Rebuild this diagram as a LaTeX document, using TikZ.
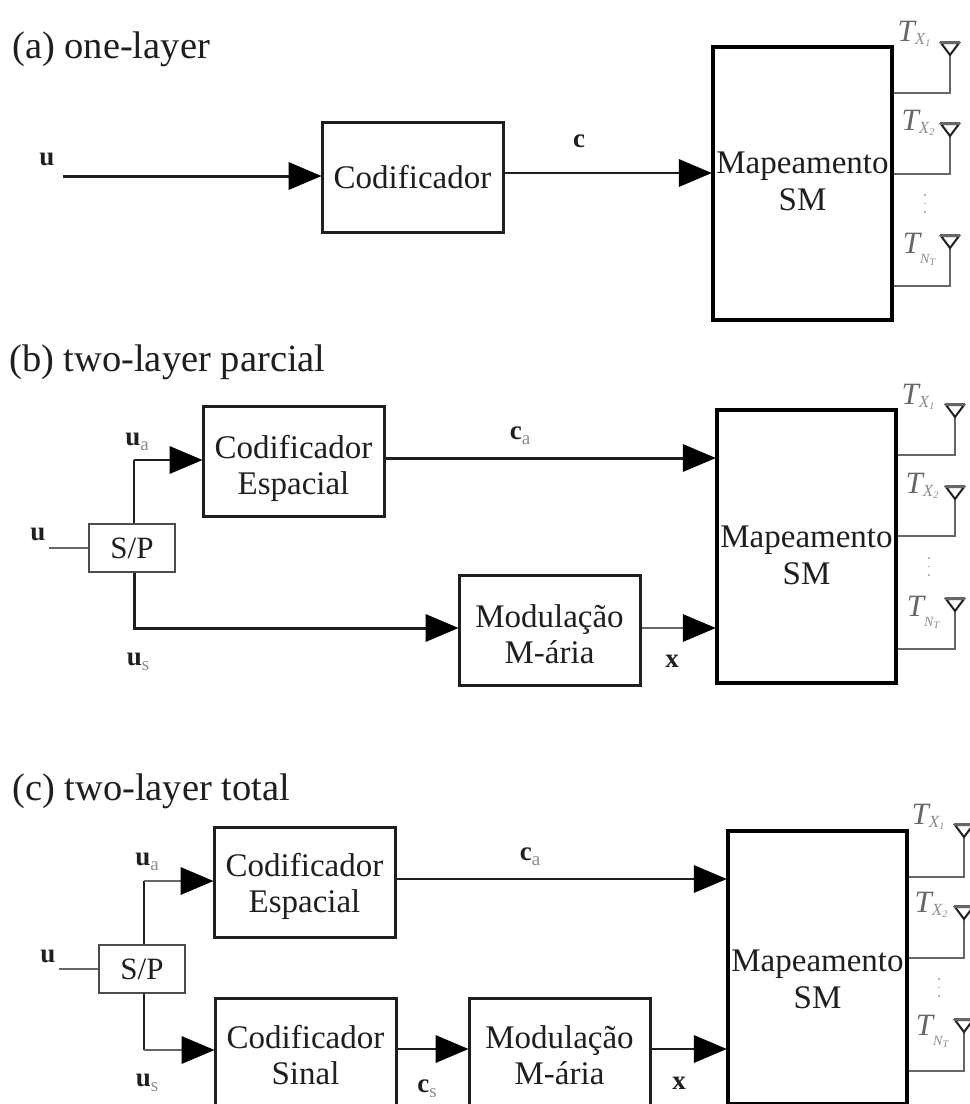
\documentclass[tikz,border=0pt]{standalone}
\usepackage{fontspec}
\setmainfont{Liberation Serif}
\usetikzlibrary{arrows.meta}
\definecolor{ink}{gray}{0.12}
\definecolor{soft}{gray}{0.4}
\definecolor{pale}{gray}{0.55}
\newcommand{\bigtxt}{\fontsize{33}{36}\selectfont}
\newcommand{\maptxt}{\fontsize{33}{37}\selectfont}
\newcommand{\sptxt}{\fontsize{31}{34}\selectfont}
\newcommand{\dn}[1]{\rule{0pt}{#1pt}}
\newcommand{\ttl}[1]{{\fontsize{38.5}{42}\selectfont #1}}
\newcommand{\vecl}[2]{{\fontsize{27}{30}\selectfont\bfseries #1}\raisebox{-5pt}{\textcolor{pale}{\fontsize{19}{20}\selectfont #2}}}
\newcommand{\txl}[1]{\textcolor{soft}{\fontsize{31}{33}\selectfont\itshape T}\raisebox{-3pt}{\textcolor{pale}{\fontsize{17}{18}\selectfont\itshape X}\raisebox{-2pt}{\fontsize{10}{11}\selectfont\itshape\textcolor{pale}{#1}}}}
\newcommand{\tnl}{\textcolor{soft}{\fontsize{31}{33}\selectfont\itshape T}\raisebox{-10pt}{\textcolor{pale}{\fontsize{14}{15}\selectfont\itshape N}\raisebox{-2pt}{\fontsize{10}{11}\selectfont\itshape\textcolor{pale}{T}}}}
\tikzset{
  x=1pt,y=-1pt,
  bighead/.tip={Triangle[length=33pt,width=28pt,color=black,fill=black,line width=0pt]},
  blk/.style={draw=ink,line width=3pt,fill=white,text=ink,align=center,font=\bigtxt,minimum width=181pt,minimum height=110pt,inner sep=0pt},
  mapblk/.style={blk,font=\maptxt,line width=4.5pt,draw=black,minimum width=179pt,minimum height=273pt},
  spblk/.style={draw=ink!80,line width=2pt,fill=white,text=ink,font=\sptxt,minimum width=86pt,minimum height=48pt,inner sep=0pt},
  wire/.style={draw=ink,line width=3pt},
  thin wire/.style={draw=soft,line width=2pt},
  flow/.style={wire,shorten >=-1pt,-{bighead}},
  thin flow/.style={thin wire,shorten >=-1pt,-{bighead}},
  lab/.style={inner sep=0pt,text=ink},
  vec/.style={lab,yshift=-4pt},
  antenna/.pic={
    \draw[draw=ink,line width=2pt,line join=miter] (-9,-12) -- (9,-12) -- (0,0) -- cycle;
    \draw[draw=soft,line width=3.5pt] (-10,-12.5) -- (10,-12.5);
  },
  vdots/.style={draw=soft!50,line width=1.2pt,dash pattern=on 1.5pt off 7pt}
}
\begin{document}
\begin{tikzpicture}
\useasboundingbox (0,0) rectangle (970,1104);
\clip (0,0) rectangle (970,1104);
\fill[white] (0,0) rectangle (970,1104);

% ---------- (a)
\node[lab,anchor=west] (ta) at (12,49) {\ttl{(a) one-layer}};
\node[vec] (ua) at (47,158) {\vecl{u}{}};
\coordinate (uastart) at (63,176);
\node[blk] (coda) at (412.5,177.5) {Codificador};
\node[mapblk] (mapa) at (802.5,183.5) {Mapeamento\\SM\rule[-4pt]{0pt}{0pt}};
\node[vec] (ca) at (579,140) {\vecl{c}{}};
\draw[flow] (uastart) -- (coda.west |- uastart);
\coordinate (caw) at (0,173);
\draw[flow,line width=2.4pt] (coda.east |- caw) -- (mapa.west |- caw);

\coordinate (a1) at (950,93); \coordinate (a1t) at (950,55);
\coordinate (a2) at (950,174); \coordinate (a2t) at (950,136);
\coordinate (a3) at (950,286); \coordinate (a3t) at (950,248);
\draw[thin wire] (mapa.east |- a1) -- (a1) -- (a1t);
\draw[thin wire] (mapa.east |- a2) -- (a2) -- (a2t);
\draw[thin wire] (mapa.east |- a3) -- (a3) -- (a3t);
\pic at (a1t) {antenna}; \pic at (a2t) {antenna}; \pic at (a3t) {antenna};
\node[lab] (ta1) at (914,34) {\txl{1}};
\node[lab] (ta2) at (918,123) {\txl{2}};
\node[lab] (ta3) at (919,249) {\tnl};
\draw[vdots] (925,194) -- (925,216);

% ---------- (b)
\node[lab,anchor=west] (tb) at (9,362) {\ttl{(b) two-layer parcial}};
\node[vec] (ub) at (38,533) {\vecl{u}{}};
\coordinate (ubstart) at (49,548);
\node[spblk] (spb) at (132,548) {S/P};
\node[blk] (cb) at (293.5,461) {\dn{37.5}Codificador\\Espacial};
\node[blk] (mb) at (549.5,630) {\dn{30.5}Modulação\\M-ária};
\node[mapblk] (mapb) at (806.5,546.5) {\dn{38.5}Mapeamento\\SM};
\node[vec] (uab) at (137,438) {\vecl{u}{a}};
\node[vec] (usb) at (138,658) {\vecl{u}{s}};
\node[vec] (cab) at (520,432) {\vecl{c}{a}};
\node[vec] (xb) at (672,660) {\vecl{x}{}};
\coordinate (bup) at (134,460);
\coordinate (bdn) at (134,628);
\coordinate (bca) at (0,458);
\draw[thin wire] (ubstart) -- (spb.west);
\draw[wire,line width=2.4pt] (spb.north -| bup) -- (bup);
\draw[flow,line width=2.4pt] (bup) -- (cb.west |- bup);
\draw[flow] (spb.south -| bdn) -- (bdn) -- (mb.west |- bdn);
\draw[flow] (cb.east |- bca) -- (mapb.west |- bca);
\draw[thin flow] (mb.east |- bdn) -- (mapb.west |- bdn);

\coordinate (b1) at (955,455); \coordinate (b1t) at (955,417);
\coordinate (b2) at (955,536); \coordinate (b2t) at (955,499);
\coordinate (b3) at (955,649); \coordinate (b3t) at (955,611);
\draw[thin wire] (mapb.east |- b1) -- (b1) -- (b1t);
\draw[thin wire] (mapb.east |- b2) -- (b2) -- (b2t);
\draw[thin wire] (mapb.east |- b3) -- (b3) -- (b3t);
\pic at (b1t) {antenna}; \pic at (b2t) {antenna}; \pic at (b3t) {antenna};
\node[lab] (tb1) at (918,397) {\txl{1}};
\node[lab] (tb2) at (922,486) {\txl{2}};
\node[lab] (tb3) at (923,612) {\tnl};
\draw[vdots] (929,557) -- (929,579);

% ---------- (c)
\node[lab,anchor=west] (tc) at (12,791) {\ttl{(c) two-layer total}};
\node[vec] (uc) at (48,955) {\vecl{u}{}};
\coordinate (ucstart) at (59,969);
\node[spblk] (spc) at (142,969) {S/P};
\node[blk] (cc) at (304.5,882) {\dn{31.5}Codificador\\Espacial};
\node[blk] (sc) at (305.5,1053) {\dn{27}Codificador\\Sinal};
\node[blk] (mc) at (559.5,1053) {\dn{27}Modulação\\M-ária};
\node[mapblk] (mapc) at (817.5,967.5) {\dn{45}Mapeamento\\SM};
\node[vec] (uac) at (147,858) {\vecl{u}{a}};
\node[vec] (usc) at (147,1079) {\vecl{u}{s}};
\node[vec] (cac) at (530,853) {\vecl{c}{a}};
\node[vec] (csc) at (427,1085) {\vecl{c}{s}};
\node[vec] (xc) at (679,1082) {\vecl{x}{}};
\coordinate (cup) at (144,881);
\coordinate (cdn) at (144,1050);
\coordinate (cca) at (0,879);
\coordinate (cm) at (0,1049);
\draw[thin wire] (ucstart) -- (spc.west);
\draw[wire,line width=2.4pt] (spc.north -| cup) -- (cup);
\draw[thin flow] (cup) -- (cc.west |- cup);
\draw[wire,line width=2.4pt] (spc.south -| cdn) -- (cdn);
\draw[thin flow] (cdn) -- (sc.west |- cdn);
\draw[flow,line width=2.4pt] (cc.east |- cca) -- (mapc.west |- cca);
\draw[flow,line width=2.4pt] (sc.east |- cm) -- (mc.west |- cm);
\draw[flow,line width=2.4pt] (mc.east |- cm) -- (mapc.west |- cm);

\coordinate (c1) at (964,877); \coordinate (c1t) at (964,837);
\coordinate (c2) at (964,958); \coordinate (c2t) at (964,919);
\coordinate (c3) at (964,1071); \coordinate (c3t) at (964,1032);
\draw[thin wire] (mapc.east |- c1) -- (c1) -- (c1t);
\draw[thin wire] (mapc.east |- c2) -- (c2) -- (c2t);
\draw[thin wire] (mapc.east |- c3) -- (c3) -- (c3t);
\pic at (c1t) {antenna}; \pic at (c2t) {antenna}; \pic at (c3t) {antenna};
\node[lab] (tc1) at (928,817) {\txl{1}};
\node[lab] (tc2) at (931,905) {\txl{2}};
\node[lab] (tc3) at (932,1031) {\tnl};
\draw[vdots] (939,978) -- (939,1000);
\end{tikzpicture}
\end{document}
